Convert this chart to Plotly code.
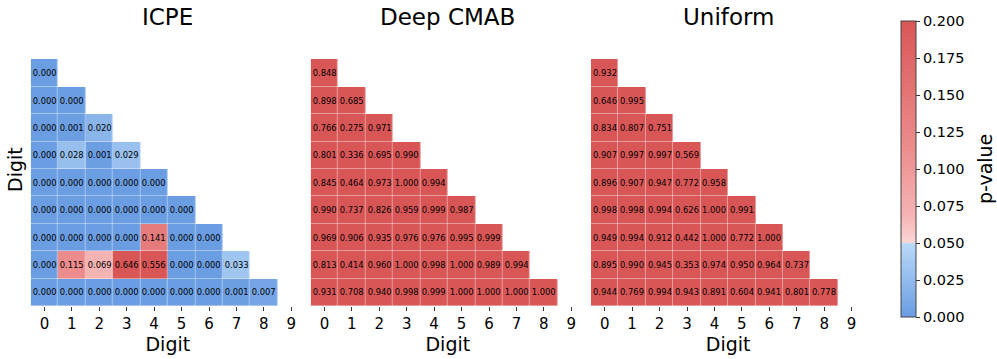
import plotly.graph_objects as go

digits = list(range(10))
tick_labels = [str(d) for d in digits]
titles = ["ICPE", "Deep CMAB", "Uniform"]

icpe_rows = [
    [0.000],
    [0.000, 0.000],
    [0.000, 0.001, 0.020],
    [0.000, 0.028, 0.001, 0.029],
    [0.000, 0.000, 0.000, 0.000, 0.000],
    [0.000, 0.000, 0.000, 0.000, 0.000, 0.000],
    [0.000, 0.000, 0.000, 0.000, 0.141, 0.000, 0.000],
    [0.000, 0.115, 0.069, 0.646, 0.556, 0.000, 0.000, 0.033],
    [0.000, 0.000, 0.000, 0.000, 0.000, 0.000, 0.000, 0.001, 0.007],
]
deep_cmab_rows = [
    [0.848],
    [0.898, 0.685],
    [0.766, 0.275, 0.971],
    [0.801, 0.336, 0.695, 0.990],
    [0.845, 0.464, 0.973, 1.000, 0.994],
    [0.990, 0.737, 0.826, 0.959, 0.999, 0.987],
    [0.969, 0.906, 0.935, 0.976, 0.976, 0.995, 0.999],
    [0.813, 0.414, 0.960, 1.000, 0.998, 1.000, 0.989, 0.994],
    [0.931, 0.708, 0.940, 0.998, 0.999, 1.000, 1.000, 1.000, 1.000],
]
uniform_rows = [
    [0.932],
    [0.646, 0.995],
    [0.834, 0.807, 0.751],
    [0.907, 0.997, 0.997, 0.569],
    [0.896, 0.907, 0.947, 0.772, 0.958],
    [0.998, 0.998, 0.994, 0.626, 1.000, 0.991],
    [0.949, 0.994, 0.912, 0.442, 1.000, 0.772, 1.000],
    [0.895, 0.990, 0.945, 0.353, 0.974, 0.950, 0.964, 0.737],
    [0.944, 0.769, 0.994, 0.943, 0.891, 0.604, 0.941, 0.801, 0.778],
]
colorbar_ticks = [0.0, 0.025, 0.05, 0.075, 0.1, 0.125, 0.15, 0.175, 0.2]

W, H = 997, 359
FONT = "DejaVu Sans"

colorscale = [
    [0.0, "rgb(106,157,226)"],
    [0.249, "rgb(186,217,248)"],
    [0.25, "rgb(252,214,214)"],
    [0.345, "rgb(245,180,180)"],
    [0.575, "rgb(236,140,140)"],
    [1.0, "rgb(217,86,86)"],
]


def to_matrix(rows):
    z = [[None] * 10]
    for r in rows:
        z.append(r + [None] * (10 - len(r)))
    return z


# axes pixel extents
ax_px = [(30.7, 305.0), (310.7, 585.0), (591.0, 865.3)]
y_top, y_bot = 32.0, 306.0

fig = go.Figure()
for k, (rows, title) in enumerate(zip([icpe_rows, deep_cmab_rows, uniform_rows], titles)):
    sfx = "" if k == 0 else str(k + 1)
    fig.add_trace(go.Heatmap(
        z=to_matrix(rows), x=digits, y=digits,
        zmin=0, zmax=0.2, colorscale=colorscale,
        xgap=0.4, ygap=0.4,
        texttemplate="%{z:.3f}", textfont=dict(size=8.4, color="black", family=FONT),
        showscale=(k == 0), hoverongaps=False,
        xaxis="x" + sfx, yaxis="y" + sfx,
        colorbar=dict(
            x=901 / W, xanchor="left", xpad=0, ypad=0,
            thickness=15, thicknessmode="pixels",
            len=(317 - 21) / H, lenmode="fraction", y=1 - 169 / H, yanchor="middle",
            outlinecolor="#444", outlinewidth=1,
            tickvals=colorbar_ticks, ticktext=[f"{v:.3f}" for v in colorbar_ticks],
            ticks="outside", ticklen=4, tickcolor="#333",
            tickfont=dict(size=14.5, color="black", family=FONT),
        ) if k == 0 else None,
    ))
    x0, x1 = ax_px[k]
    fig.layout["xaxis" + sfx] = dict(
        domain=[x0 / W, x1 / W], range=[-0.5, 9.5], anchor="y" + sfx,
        tickvals=digits, ticktext=tick_labels, ticks="outside", ticklen=4,
        tickcolor="#333", showgrid=False, zeroline=False, showline=False,
        tickfont=dict(size=15, color="black", family=FONT),
        title=dict(text="Digit", font=dict(size=19, color="black", family=FONT), standoff=2),
        fixedrange=True,
    )
    fig.layout["yaxis" + sfx] = dict(
        domain=[1 - y_bot / H, 1 - y_top / H], range=[9.5, -0.5], anchor="x" + sfx,
        showticklabels=False, ticks="", showgrid=False, zeroline=False, showline=False,
        fixedrange=True,
    )
    fig.add_annotation(
        text=title, x=(x0 + x1) / 2 / W, y=1 - 17 / H, xref="paper", yref="paper",
        xanchor="center", yanchor="middle", showarrow=False,
        font=dict(size=23, color="black", family=FONT),
    )

fig.add_annotation(
    text="Digit", x=15 / W, y=1 - 170 / H, xref="paper", yref="paper",
    xanchor="center", yanchor="middle", showarrow=False, textangle=-90,
    font=dict(size=19, color="black", family=FONT),
)
fig.add_annotation(
    text="p-value", x=985 / W, y=1 - 169 / H, xref="paper", yref="paper",
    xanchor="center", yanchor="middle", showarrow=False, textangle=-90,
    font=dict(size=19, color="black", family=FONT),
)

fig.update_layout(
    width=W, height=H, margin=dict(l=0, r=0, t=0, b=0, autoexpand=False),
    paper_bgcolor="white", plot_bgcolor="white",
    font=dict(family=FONT, color="black"),
)

fig.write_html("out.html", config={"displayModeBar": False},
               post_script="document.body.style.margin='0';")
